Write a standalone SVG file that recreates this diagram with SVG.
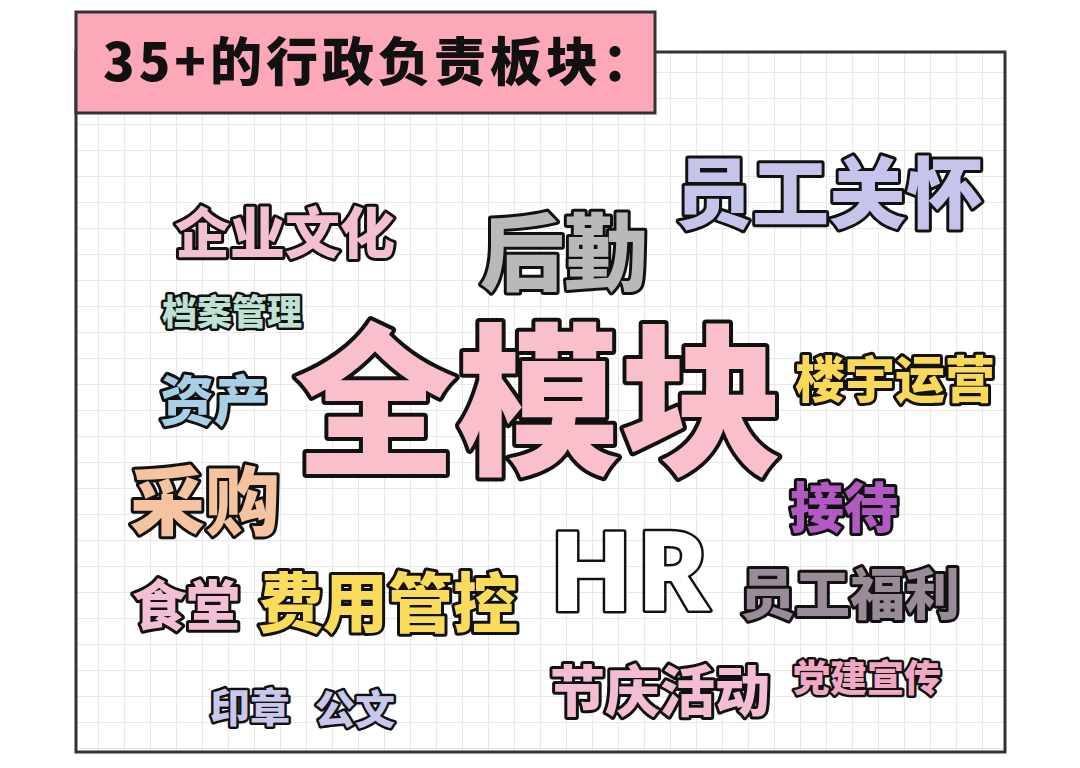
<svg xmlns="http://www.w3.org/2000/svg" width="1080" height="768" viewBox="0 0 1080 768">
<defs>
<pattern id="grid" x="0" y="0" width="26" height="26" patternUnits="userSpaceOnUse">
<path d="M20.5 0V26M0 20.5H26" fill="none" stroke="#e8e8e8" stroke-width="1"/>
</pattern>
</defs>
<style>
.w{font-family:"Noto Sans CJK SC","Noto Sans",sans-serif;font-weight:900;stroke:#111;stroke-linejoin:round;paint-order:stroke;}
.s5{stroke-width:5}
.s6{stroke-width:6}
.s8{stroke-width:8}
</style>
<rect width="1080" height="768" fill="#fff"/>
<g id="frame">
<rect x="76" y="52" width="929" height="700" fill="url(#grid)" stroke="#333" stroke-width="3"/>
</g>
<g id="header">
<rect x="76" y="12" width="579" height="101" fill="#fda8b9" stroke="#333" stroke-width="3"/>
<text x="103" y="81" font-family="Noto Sans CJK SC, sans-serif" font-weight="900" font-size="52" letter-spacing="4" fill="#111">35+的行政负责板块：</text>
</g>
<g id="n-qiyewenhua"><text class="w s6" x="175" y="253" font-size="55" fill="#f3bfd3">企业文化</text></g>
<g id="n-houqin"><text class="w s6" x="480" y="284" font-size="84" fill="#b9b9b9">后勤</text></g>
<g id="n-yuangongguanhuai"><text class="w s6" x="675" y="222" font-size="77" fill="#c5c4ea">员工关怀</text></g>
<g id="n-danganguanli"><text class="w s5" x="162" y="325" font-size="35" fill="#bfe3d2">档案管理</text></g>
<g id="n-quanmokuai"><text class="w s8" x="294" y="461" font-size="163" fill="#f9bfcb">全模块</text></g>
<g id="n-louyuyunying"><text class="w s6" x="795" y="398" font-size="50" fill="#fad85a">楼宇运营</text></g>
<g id="n-zichan"><text class="w s6" x="160" y="421" font-size="54" fill="#a8cfe3">资产</text></g>
<g id="n-caigou"><text class="w s6" x="130" y="529" font-size="75" fill="#f4c3a0">采购</text></g>
<g id="n-jiedai"><text class="w s6" x="790" y="528" font-size="54" fill="#b05ac2">接待</text></g>
<g id="n-hr"><text x="549" y="611" font-family="Noto Sans, sans-serif" font-weight="800" font-size="110" letter-spacing="3" fill="#fff" stroke="#111" stroke-width="5" paint-order="stroke" stroke-linejoin="round">HR</text></g>
<g id="n-yuangongfuli"><text class="w s6" x="740" y="614" font-size="55" fill="#9a8b98">员工福利</text></g>
<g id="n-shitang"><text class="w s6" x="132" y="626" font-size="54" fill="#f2bfd5">食堂</text></g>
<g id="n-feiyongguankong"><text class="w s6" x="258" y="627" font-size="65" fill="#fadc5c">费用管控</text></g>
<g id="n-jieqinghuodong"><text class="w s6" x="550" y="711" font-size="55" fill="#f3bdd3">节庆活动</text></g>
<g id="n-dangjianxuanchuan"><text class="w s5" x="793" y="692" font-size="37" fill="#f0a8c4">党建宣传</text></g>
<g id="n-yinzhang"><text class="w s5" x="210" y="722" font-size="40" fill="#c9c8ec">印章</text></g>
<g id="n-gongwen"><text class="w s5" x="315" y="724" font-size="40" fill="#c9c8ec">公文</text></g>
</svg>
